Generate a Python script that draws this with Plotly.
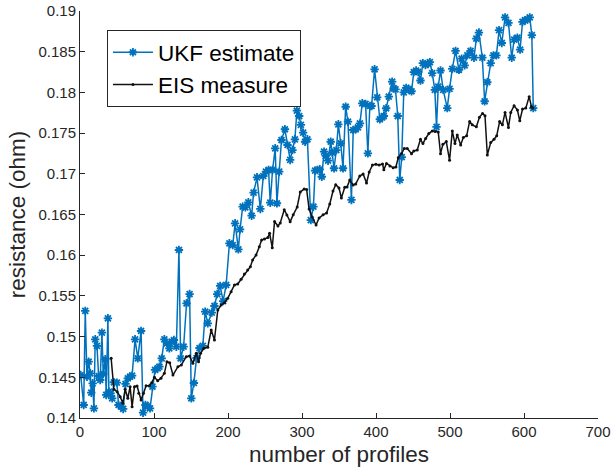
import plotly.graph_objects as go

# UKF resistance estimate per profile
ukf_profiles = [0.9, 5.0, 7.1, 9.4, 11.7, 13.9, 15.2, 17.1, 18.8, 20.6, 22.9, 25.2, 27.3, 29.6, 31.4,
                34.1, 35.4, 37.7, 39.0, 41.3, 43.5, 45.8, 49.8, 52.1, 55.6, 58.3, 61.5, 64.6, 67.7,
                70.4, 74.4, 78.1, 82.5, 85.2, 88.4, 91.5, 94.6, 97.9, 101.4, 105.0, 107.3, 110.4,
                114.0, 117.5, 120.7, 124.2, 126.9, 130.2, 133.7, 136.0, 140.0, 144.0, 148.1, 150.4,
                153.9, 157.5, 161.5, 166.0, 169.2, 172.7, 178.1, 181.7, 185.4, 189.4, 193.4, 197.5,
                201.9, 206.4, 209.6, 214.0, 216.3, 219.8, 223.5, 227.5, 231.9, 234.6, 239.2, 243.7,
                247.7, 251.3, 254.8, 257.1, 260.2, 263.8, 266.1, 269.2, 272.3, 276.9, 280.4, 284.0,
                287.1, 290.4, 293.1, 296.2, 298.5, 301.5, 304.2, 307.3, 311.9, 315.4, 317.7, 320.8,
                324.0, 326.7, 329.8, 332.1, 335.2, 338.8, 341.0, 343.3, 346.4, 349.1, 352.3, 355.4,
                359.0, 362.1, 366.8, 369.2, 372.5, 375.6, 378.3, 381.4, 385.9, 389.0, 391.7, 394.0,
                398.1, 401.6, 405.2, 408.3, 410.6, 413.7, 417.3, 421.8, 424.0, 426.3, 429.4, 432.1,
                434.8, 437.5, 440.7, 444.2, 448.0, 451.1, 454.2, 457.0, 460.1, 463.3, 466.8, 470.5,
                472.8, 476.0, 479.5, 481.8, 484.1, 487.2, 490.8, 496.3, 499.4, 503.1, 507.5, 512.1,
                515.7, 519.8, 523.4, 527.8, 532.4, 535.6, 539.1, 543.7, 546.8, 550.4, 555.0, 558.7,
                562.7, 566.3, 570.0, 574.4, 579.0, 583.4, 586.7, 591.1, 594.7, 598.0, 601.5, 604.7,
                607.8, 610.6, 612.5]
ukf_resistance = [0.14528, 0.14160, 0.15315, 0.14507, 0.14692, 0.14549, 0.14311, 0.14426, 0.14119,
                  0.14967, 0.14885, 0.14516, 0.14467, 0.15048, 0.14541, 0.14721, 0.14283, 0.15225,
                  0.14323, 0.14303, 0.14242, 0.14439, 0.14434, 0.14160, 0.14139, 0.14111, 0.14418,
                  0.14488, 0.14507, 0.14520, 0.14967, 0.14733, 0.15069, 0.14065, 0.14160, 0.14147,
                  0.14119, 0.14385, 0.14590, 0.14611, 0.14630, 0.14733, 0.14967, 0.14918, 0.14856,
                  0.14937, 0.14958, 0.14876, 0.16064, 0.14733, 0.14876, 0.15409, 0.15523, 0.14242,
                  0.14430, 0.14737, 0.14860, 0.14885, 0.15306, 0.15163, 0.15294, 0.15376, 0.15523,
                  0.15622, 0.15437, 0.15634, 0.16146, 0.16125, 0.16392, 0.16072, 0.16318, 0.16596,
                  0.16588, 0.16650, 0.16485, 0.16768, 0.16957, 0.16568, 0.16973, 0.17026, 0.17047,
                  0.16645, 0.17047, 0.17313, 0.16638, 0.17026, 0.17415, 0.17547, 0.17354, 0.17170,
                  0.17292, 0.17424, 0.17775, 0.17710, 0.17600, 0.17505, 0.17394, 0.17424, 0.16432,
                  0.16596, 0.17038, 0.17047, 0.17055, 0.16964, 0.17272, 0.17219, 0.17161, 0.17394,
                  0.17259, 0.17068, 0.17292, 0.17608, 0.17375, 0.17068, 0.17824, 0.17640, 0.16679,
                  0.17538, 0.17547, 0.17571, 0.17620, 0.17866, 0.17858, 0.17252, 0.17833, 0.17833,
                  0.18284, 0.17940, 0.17670, 0.17694, 0.17710, 0.17805, 0.17947, 0.18132, 0.18050,
                  0.18038, 0.17710, 0.16924, 0.17206, 0.18001, 0.18055, 0.18042, 0.18014, 0.18249,
                  0.18269, 0.18251, 0.18146, 0.18360, 0.18337, 0.18349, 0.18372, 0.18236, 0.18031,
                  0.17577, 0.18071, 0.18269, 0.18031, 0.17807, 0.18043, 0.18290, 0.18509, 0.18278,
                  0.18414, 0.18332, 0.18455, 0.18509, 0.18426, 0.18661, 0.18735, 0.18426, 0.17891,
                  0.18125, 0.18360, 0.18455, 0.18455, 0.18764, 0.18607, 0.18921, 0.18855, 0.18426,
                  0.18649, 0.18673, 0.18525, 0.18867, 0.18888, 0.18896, 0.18921, 0.18703, 0.17808]

# EIS resistance measurement per profile
eis_profiles = [42.1, 45.8, 50.2, 54.3, 57.9, 61.0, 64.6, 67.7, 70.4, 73.6, 77.1, 79.4, 82.5, 85.8,
                89.3, 93.8, 96.9, 100.6, 105.0, 109.4, 114.0, 117.5, 121.2, 125.6, 132.3, 136.9,
                143.6, 148.1, 152.5, 157.1, 160.2, 162.9, 167.3, 172.7, 177.3, 181.7, 186.2, 190.7,
                195.2, 199.6, 204.2, 208.7, 213.1, 217.7, 222.1, 226.6, 230.2, 233.3, 237.9, 242.3,
                245.4, 249.3, 253.9, 256.2, 259.8, 262.9, 267.5, 270.6, 276.0, 279.6, 284.0, 288.1,
                293.5, 297.6, 302.9, 306.3, 309.6, 313.7, 319.0, 323.1, 328.5, 333.2, 337.5, 341.9,
                345.6, 350.0, 353.2, 357.8, 360.9, 364.5, 369.1, 372.6, 378.1, 382.6, 387.2, 390.8,
                395.2, 399.8, 404.2, 408.8, 410.6, 414.2, 418.8, 423.2, 426.9, 430.1, 434.5, 438.2,
                442.2, 448.0, 451.1, 455.7, 460.1, 463.4, 467.1, 471.4, 476.0, 479.9, 484.1, 487.2,
                490.4, 495.0, 499.4, 503.1, 506.7, 509.8, 514.4, 518.0, 522.5, 526.5, 530.1, 535.6,
                539.8, 544.0, 547.3, 550.4, 555.0, 559.5, 563.1, 567.1, 570.8, 574.4, 579.0, 582.1,
                586.6, 591.1, 594.3, 598.0, 602.4, 607.0, 610.1, 611.8]
eis_resistance = [0.14733, 0.14353, 0.14323, 0.14262, 0.14181, 0.14353, 0.14242, 0.14385, 0.14139,
                  0.14385, 0.14393, 0.14303, 0.14221, 0.14303, 0.14397, 0.14397, 0.14434, 0.14500,
                  0.14458, 0.14488, 0.14549, 0.14692, 0.14679, 0.14528, 0.14630, 0.14651, 0.14753,
                  0.14762, 0.14672, 0.14795, 0.14692, 0.14795, 0.14856, 0.14869, 0.15081, 0.14958,
                  0.15327, 0.15388, 0.15416, 0.15471, 0.15552, 0.15634, 0.15646, 0.15704, 0.15769,
                  0.15818, 0.15859, 0.15941, 0.16002, 0.16104, 0.16187, 0.16200, 0.16216, 0.16270,
                  0.16092, 0.16414, 0.16359, 0.16396, 0.16559, 0.16494, 0.16412, 0.16496, 0.16592,
                  0.16776, 0.16813, 0.16806, 0.16568, 0.16469, 0.16371, 0.16457, 0.16496, 0.16518,
                  0.16629, 0.16789, 0.16867, 0.16826, 0.16703, 0.16835, 0.16838, 0.16924, 0.16862,
                  0.16876, 0.16973, 0.16998, 0.16887, 0.17022, 0.17107, 0.17116, 0.17108, 0.17120,
                  0.17049, 0.17128, 0.17095, 0.17074, 0.17084, 0.17198, 0.17249, 0.17311, 0.17311,
                  0.17247, 0.17280, 0.17292, 0.17424, 0.17371, 0.17434, 0.17494, 0.17527, 0.17520,
                  0.17515, 0.17247, 0.17362, 0.17396, 0.17165, 0.17527, 0.17371, 0.17478, 0.17354,
                  0.17445, 0.17466, 0.17643, 0.17602, 0.17577, 0.17694, 0.17742, 0.17713, 0.17231,
                  0.17383, 0.17424, 0.17466, 0.17643, 0.17602, 0.17754, 0.17569, 0.17754, 0.17837,
                  0.17783, 0.17651, 0.17795, 0.17807, 0.17948, 0.17824, 0.17808]

x_ticks = [0, 100, 200, 300, 400, 500, 600, 700]
y_ticks = [0.14, 0.145, 0.15, 0.155, 0.16, 0.165, 0.17, 0.175, 0.18, 0.185, 0.19]

FONT = "Liberation Sans, Arial, sans-serif"
AXIS_COLOR = "#262626"

fig = go.Figure()
fig.add_trace(go.Scatter(
    x=ukf_profiles, y=ukf_resistance, name="UKF estimate",
    mode="lines+markers",
    line=dict(color="#0072BD", width=1.5),
    marker=dict(symbol="asterisk", size=7, color="#0072BD",
                line=dict(color="#0072BD", width=1.8)),
))
fig.add_trace(go.Scatter(
    x=eis_profiles, y=eis_resistance, name="EIS measure",
    mode="lines+markers",
    line=dict(color="#111111", width=1.5),
    marker=dict(symbol="circle", size=3, color="#111111"),
))

axis_common = dict(
    showline=True, linecolor=AXIS_COLOR, linewidth=1, mirror=False,
    ticks="inside", ticklen=5, tickwidth=1, tickcolor=AXIS_COLOR,
    showgrid=False, zeroline=False, ticklabeloverflow="allow",
    tickfont=dict(family=FONT, size=15, color=AXIS_COLOR),
)

fig.update_xaxes(
    range=[0, 700], tickvals=x_ticks, ticktext=[str(v) for v in x_ticks],
    title=dict(text="number of profiles", font=dict(family=FONT, size=22.5, color=AXIS_COLOR), standoff=7),
    **axis_common,
)
fig.update_yaxes(
    range=[0.14, 0.19], tickvals=y_ticks, ticktext=[f"{v:g}" for v in y_ticks],
    title=dict(text="resistance (ohm)", font=dict(family=FONT, size=22.5, color=AXIS_COLOR), standoff=6),
    **axis_common,
)

fig.update_layout(
    width=611, height=475,
    margin=dict(l=80, r=13, t=11, b=57, autoexpand=False),
    plot_bgcolor="white", paper_bgcolor="white",
    legend=dict(
        x=0.052, y=0.953, xanchor="left", yanchor="top",
        bgcolor="white", bordercolor=AXIS_COLOR, borderwidth=1,
        font=dict(family=FONT, size=22.5, color="#000000"),
        itemwidth=40, tracegroupgap=0,
    ),
    showlegend=True,
)

fig.write_html("out.html")
